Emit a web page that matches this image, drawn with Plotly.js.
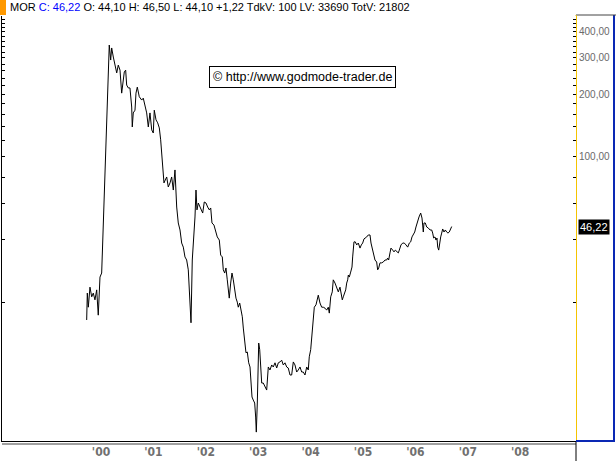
<!DOCTYPE html>
<html><head><meta charset="utf-8">
<script src="https://cdn.plot.ly/plotly-3.0.1.min.js"></script>
<style>html,body{margin:0;padding:0;background:#fff;overflow:hidden}#chart{width:616px;height:461px}</style>
</head><body><div id="chart"></div>
<script>
// ---- data (decimal years, closing price in EUR) ----
const dates = [
1999.727,1999.739,1999.758,1999.790,1999.823,1999.853,1999.885,1999.918,1999.948,1999.981,
2000.013,2000.032,2000.057,2000.082,2000.109,2000.139,2000.158,2000.185,2000.204,2000.235,
2000.267,2000.300,2000.330,2000.363,2000.395,2000.414,2000.445,2000.471,2000.490,2000.521,
2000.553,2000.586,2000.597,2000.616,2000.649,2000.668,2000.693,2000.731,2000.777,2000.807,
2000.840,2000.872,2000.903,2000.935,2000.968,2000.998,2001.017,2001.050,2001.082,2001.113,
2001.139,2001.177,2001.202,2001.227,2001.254,2001.284,2001.317,2001.349,2001.380,2001.412,
2001.445,2001.475,2001.508,2001.540,2001.571,2001.603,2001.635,2001.666,2001.698,2001.718,
2001.742,2001.775,2001.794,2001.813,2001.832,2001.857,2001.889,2001.922,2001.941,2001.971,
2002.004,2002.036,2002.067,2002.094,2002.118,2002.156,2002.189,2002.219,2002.258,2002.284,
2002.315,2002.334,2002.361,2002.385,2002.410,2002.437,2002.448,2002.475,2002.500,2002.525,
2002.552,2002.576,2002.601,2002.620,2002.647,2002.672,2002.697,2002.716,2002.742,2002.767,
2002.792,2002.819,2002.844,2002.863,2002.882,2002.906,2002.933,2002.952,2002.964,2002.983,
2002.996,2003.010,2003.029,2003.048,2003.067,2003.097,2003.130,2003.162,2003.193,2003.225,
2003.258,2003.288,2003.321,2003.353,2003.384,2003.416,2003.448,2003.479,2003.511,2003.544,
2003.574,2003.607,2003.639,2003.670,2003.702,2003.735,2003.765,2003.798,2003.830,2003.861,
2003.893,2003.926,2003.956,2003.975,2004.002,2004.021,2004.040,2004.071,2004.103,2004.128,
2004.147,2004.179,2004.212,2004.242,2004.275,2004.307,2004.338,2004.357,2004.384,2004.414,
2004.433,2004.466,2004.498,2004.529,2004.561,2004.580,2004.605,2004.624,2004.643,2004.670,
2004.689,2004.708,2004.720,2004.739,2004.765,2004.790,2004.803,2004.828,2004.853,2004.880,
2004.910,2004.943,2004.968,2004.994,2005.019,2005.044,2005.071,2005.101,2005.134,2005.153,
2005.185,2005.210,2005.229,2005.261,2005.280,2005.300,2005.324,2005.357,2005.387,2005.420,
2005.452,2005.471,2005.490,2005.515,2005.534,2005.567,2005.592,2005.617,2005.643,2005.674,
2005.693,2005.725,2005.758,2005.788,2005.821,2005.853,2005.884,2005.910,2005.935,2005.960,
2005.987,2006.011,2006.036,2006.069,2006.101,2006.126,2006.139,2006.151,2006.164,2006.189,
2006.216,2006.246,2006.279,2006.311,2006.330,2006.349,2006.374,2006.393,2006.412,2006.426,
2006.445,2006.464,2006.483,2006.502,2006.521,2006.546,2006.571,2006.597,2006.622,2006.647,
2006.674,2006.693
];
const closes = [
16.4,22.1,18.9,23.6,21.2,22.1,20.5,22.9,17.3,26.4,
27.6,39.8,64.2,93.6,156,284,346,293,335,303,
271,254,277,262,203,227,257,262,222,215,
215,174,139.5,163,168,203,217,195,188,192,
178,163,139.5,163,135,130.5,168,151,146,138,
121,89.5,75.0,77.5,80.1,71.7,75.0,80.1,69.3,86.6,
57.4,48.1,44.5,38.5,36.8,33.0,31.9,28.6,21.2,15.9,
31.9,41.2,51.4,69.3,55.6,60.0,57.4,55.6,53.7,60.7,
60.0,57.4,55.6,56.8,48.1,47.0,43.5,41.2,39.8,33.7,
33.0,28.6,27.6,29.2,25.6,22.9,20.9,24.7,27.6,25.6,
22.9,20.9,20.0,18.9,19.8,18.3,17.0,15.0,13.1,11.4,
11.5,10.2,9.74,8.15,6.98,6.75,6.53,5.59,4.73,6.53,
8.15,12.7,11.8,9.11,8.15,8.15,7.80,7.54,9.74,9.42,
9.96,9.74,10.2,9.63,10.2,10.3,10.5,9.96,10.2,9.74,
9.63,8.91,8.91,10.3,9.96,9.21,9.42,9.74,9.21,9.21,
8.91,9.74,9.42,10.9,11.8,13.6,15.9,18.9,19.4,21.2,
21.6,19.8,18.9,18.9,18.7,18.3,18.9,17.7,21.2,22.4,
25.6,24.7,23.4,22.4,23.6,22.1,20.5,21.2,22.1,22.9,
24.7,25.6,27.0,26.4,27.9,29.5,33.0,39.0,39.0,37.7,
38.5,36.4,37.7,38.5,40.3,40.7,41.2,42.1,42.1,38.5,
35.6,34.5,31.9,31.2,28.6,29.2,30.9,30.9,31.2,31.9,
31.9,32.6,31.9,34.5,36.4,35.6,34.9,35.6,34.9,34.5,
35.6,37.7,38.5,38.5,37.7,36.8,38.5,39.0,41.2,42.1,
43.5,46.0,48.6,51.4,53.7,50.8,47.0,43.5,48.1,48.1,
46.0,45.5,44.5,44.5,43.0,40.7,41.2,39.8,40.7,36.8,
35.6,39.0,41.2,43.0,45.0,43.5,44.5,43.5,43.0,43.5,
45.0,46.22
];
const yearTicks = [2000,2001,2002,2003,2004,2005,2006,2007,2008];
const yearLabels = ["'00","'01","'02","'03","'04","'05","'06","'07","'08"];
const priceTicks = [20,40,60,80,100,120,140,160,180,200,220,240,260,280,300,320,340,360,380,400,420,440,460];
const labeledPrices = [100,200,300,400];
const priceLabels = ["100,00","200,00","300,00","400,00"];

// quote header
const ticker = 'MOR';
const lastClose = '46,22';
const openPx = '44,10';
const highPx = '46,50';
const lowPx = '44,10';
const changePx = '+1,22';
const tdkV = '100';
const lv = '33690';
const totV = '21802';
const watermark = '\u00A9 http://www.godmode-trader.de';

const tickText = priceTicks.map(v => { const i = labeledPrices.indexOf(v); return i >= 0 ? priceLabels[i] : ''; });

const FONT = 'Liberation Sans, Arial, Helvetica, sans-serif';
const yRange = [0.632, 2.679];

const traces = [
  {x: dates, y: closes, type: 'scatter', mode: 'lines', line: {color: '#000', width: 1}, hoverinfo: 'skip', showlegend: false},
  {x: [dates[0]], y: [closes[0]], type: 'scatter', mode: 'none', yaxis: 'y2', hoverinfo: 'skip', showlegend: false}
];

const layout = {
  width: 616, height: 461,
  margin: {l: 2, r: 40, t: 16, b: 20, pad: 0},
  paper_bgcolor: '#fff', plot_bgcolor: '#fff',
  showlegend: false,
  xaxis: {
    range: [1998.111, 2009.065], tickmode: 'array', tickvals: yearTicks, ticktext: yearLabels,
    ticks: '', showline: true, linecolor: '#000', linewidth: 1, showgrid: false, zeroline: false,
    tickfont: {family: 'Liberation Sans Narrow, DejaVu Sans Condensed, Arial Narrow, sans-serif', size: 12, color: '#707070', weight: 'bold'},
    fixedrange: true
  },
  yaxis: {
    type: 'log', side: 'right', range: yRange, tickmode: 'array', tickvals: priceTicks, ticktext: tickText,
    ticks: 'inside', ticklen: 3, tickcolor: '#000', tickwidth: 1,
    showline: true, linecolor: '#f5c400', linewidth: 1, showgrid: false, zeroline: false,
    tickfont: {family: FONT, size: 10, color: '#6a6a6a'}, fixedrange: true
  },
  yaxis2: {
    type: 'log', side: 'left', overlaying: 'y', range: yRange, tickmode: 'array', tickvals: priceTicks,
    ticks: 'inside', ticklen: 3, tickcolor: '#000', showticklabels: false,
    showline: true, linecolor: '#000', linewidth: 1, showgrid: false, zeroline: false, fixedrange: true
  },
  shapes: [
    // orange marker top-left
    {type: 'rect', xref: 'paper', yref: 'paper', x0: -2/574, x1: 4/574, y0: 426/425, y1: 441/425, fillcolor: '#ff9900', line: {width: 0}, layer: 'above'},
    // second grey line under the x-axis
    {type: 'line', xref: 'paper', yref: 'paper', x0: 0, x1: 1, y0: -3/425, y1: -3/425, line: {color: '#808080', width: 1.5}},
    // vertical line below the plot at the right
    {type: 'line', xref: 'paper', yref: 'paper', x0: 1, x1: 1, y0: 0, y1: -20/425, line: {color: '#000', width: 1}},
    // right panel frame
    {type: 'line', xref: 'paper', yref: 'paper', x0: 612/574, x1: 612/574, y0: 0, y1: 426/425, line: {color: '#0a28b4', width: 2}},
    {type: 'line', xref: 'paper', yref: 'paper', x0: 1, x1: 613/574, y0: 0, y1: 0, line: {color: '#0a28b4', width: 2}},
    {type: 'line', xref: 'paper', yref: 'paper', x0: 1, x1: 614/574, y0: 426/425, y1: 426/425, line: {color: '#444', width: 1}},
    {type: 'line', xref: 'paper', yref: 'paper', x0: 1, x1: 1, y0: 1, y1: 426/425, line: {color: '#f5c400', width: 1}}
  ],
  annotations: [
    {xref: 'paper', yref: 'paper', x: 6/574, y: 434/425, xanchor: 'left', yanchor: 'middle', showarrow: false,
     text: ticker + ' <span style="color:#0000ff">C: ' + lastClose + '</span> O: ' + openPx + ' H: ' + highPx + ' L: ' + lowPx + ' ' + changePx + ' TdkV: ' + tdkV + ' LV: ' + lv + ' TotV: ' + totV,
     font: {family: FONT, size: 11, color: '#000'}},
    {xref: 'paper', yref: 'paper', x: 300.5/574, y: 364.5/425, xanchor: 'center', yanchor: 'middle', showarrow: false,
     text: watermark, font: {family: FONT, size: 12.5, color: '#000'}, bgcolor: '#fff', bordercolor: '#000', borderwidth: 1, borderpad: 3},
    {xref: 'paper', yref: 'y', x: 1, xshift: 2, y: Math.log10(closes[closes.length - 1]), xanchor: 'left', yanchor: 'middle', showarrow: false,
     text: lastClose, font: {family: FONT, size: 11, color: '#fff'}, bgcolor: '#000', borderpad: 1}
  ]
};

Plotly.newPlot('chart', traces, layout, {displayModeBar: false, staticPlot: true});
</script>
</body></html>
